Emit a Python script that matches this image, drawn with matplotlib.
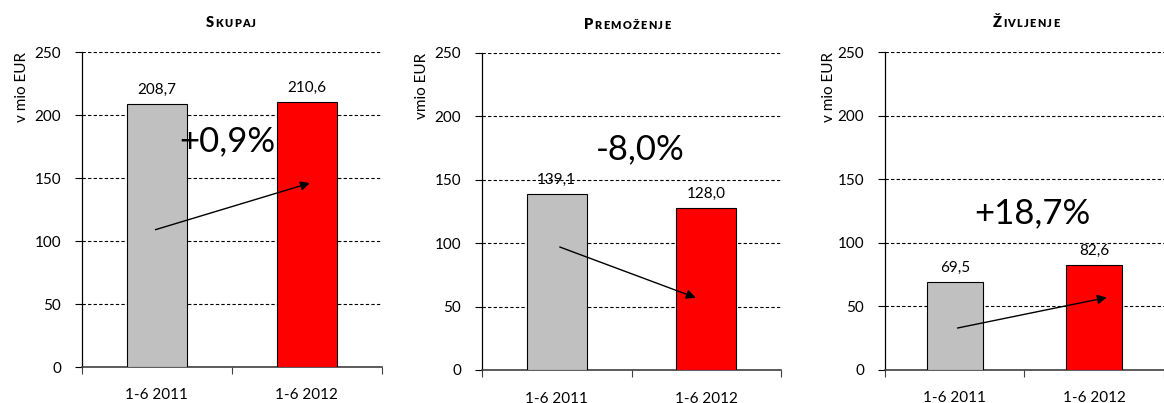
import matplotlib
matplotlib.use("Agg")
import matplotlib.pyplot as plt

plt.rcParams['font.family'] = ['Lato', 'DejaVu Sans']

categories = ['1-6 2011', '1-6 2012']
titles = ['Skupaj', 'Premoženje', 'Življenje']
vals_2011 = [208.7, 139.1, 69.5]
vals_2012 = [210.6, 128.0, 82.6]
changes = ['+0,9%', '-8,0%', '+18,7%']
ylabels = ['v mio EUR', 'vmio EUR', 'v mio EUR']
yticks = [0, 50, 100, 150, 200, 250]

colors = ['#c0c0c0', '#ff0000']

# layout (figure fractions) and annotation spots
axes_pos = [[0.0704, 0.0893, 0.2577, 0.7816],
            [0.4141, 0.0819, 0.2569, 0.7866],
            [0.7603, 0.0819, 0.2397, 0.7890]]
arrows = [((-0.01, 109), (1.02, 146)),
          ((0.02, 97), (0.93, 57)),
          ((0.02, 33), (1.09, 57))]
pct_pos = [(0.47, 179), (0.56, 174), (0.56, 123)]
title_x = [0.1985, 0.5387, 0.8814]
title_y = [0.932, 0.927, 0.932]
xlab_pad = [15, 16, 15]

W, H = 1164, 403
fig = plt.figure(figsize=(W / 100, H / 100), dpi=100)


def smallcaps(x, y, word):
    # first letter full size, the rest as small capitals, spaced out a bit
    r = fig.canvas.get_renderer()
    gap = 1.3 / W
    parts = [fig.text(0, y, word[0].upper(), fontsize=10.5, fontweight='heavy')]
    for ch in word[1:].upper():
        parts.append(fig.text(0, y, ch, fontsize=7.8, fontweight='heavy'))
    widths = [p.get_window_extent(r).width / W for p in parts]
    total = sum(widths) + gap * (len(parts) - 1)
    xc = x - total / 2
    for p, w in zip(parts, widths):
        p.set_x(xc)
        xc += w + gap


for i in range(3):
    ax = fig.add_axes(axes_pos[i])
    vals = [vals_2011[i], vals_2012[i]]
    bars = ax.bar([0, 1], vals, width=0.4, color=colors, edgecolor='black',
                  linewidth=0.8, zorder=3)
    for b, v in zip(bars, vals):
        ax.annotate(f"{v:.1f}".replace('.', ','), (b.get_x() + b.get_width() / 2, v),
                    xytext=(0, 5), textcoords='offset points', ha='center',
                    va='bottom', fontsize=11)
    ax.set_xlim(-0.5, 1.5)
    ax.set_ylim(0, 250)
    ax.set_yticks(yticks)
    ax.set_xticks([0, 1])
    ax.set_xticklabels(categories, fontsize=11)
    ax.set_xticks([-0.5, 0.5, 1.5], minor=True)
    ax.tick_params(axis='x', which='major', length=0, pad=xlab_pad[i])
    ax.tick_params(axis='x', which='minor', length=5, width=0.8, color='#404040')
    ax.tick_params(axis='y', length=5, width=0.8, pad=10, labelsize=11)
    ax.yaxis.grid(True, color='black', linestyle=(0, (3, 2)), linewidth=0.8, zorder=0)
    ax.set_axisbelow(True)
    for s in ['top', 'right']:
        ax.spines[s].set_visible(False)
    ax.spines['left'].set_linewidth(0.9)
    ax.spines['bottom'].set_linewidth(1.2)
    ax.spines['bottom'].set_color('#404040')
    ax.text(-0.2, 1.0, ylabels[i], transform=ax.transAxes, rotation=90,
            ha='center', va='top', fontsize=11)
    (x0, y0), (x1, y1) = arrows[i]
    ax.annotate('', xy=(x1, y1), xytext=(x0, y0),
                arrowprops=dict(arrowstyle='-|>', mutation_scale=14, lw=1,
                                color='black', shrinkA=0, shrinkB=0), zorder=5)
    ax.text(pct_pos[i][0], pct_pos[i][1], changes[i], ha='center', va='center',
            fontsize=25, zorder=6)
    smallcaps(title_x[i], title_y[i], titles[i])

fig.savefig('out.png', dpi=100)
